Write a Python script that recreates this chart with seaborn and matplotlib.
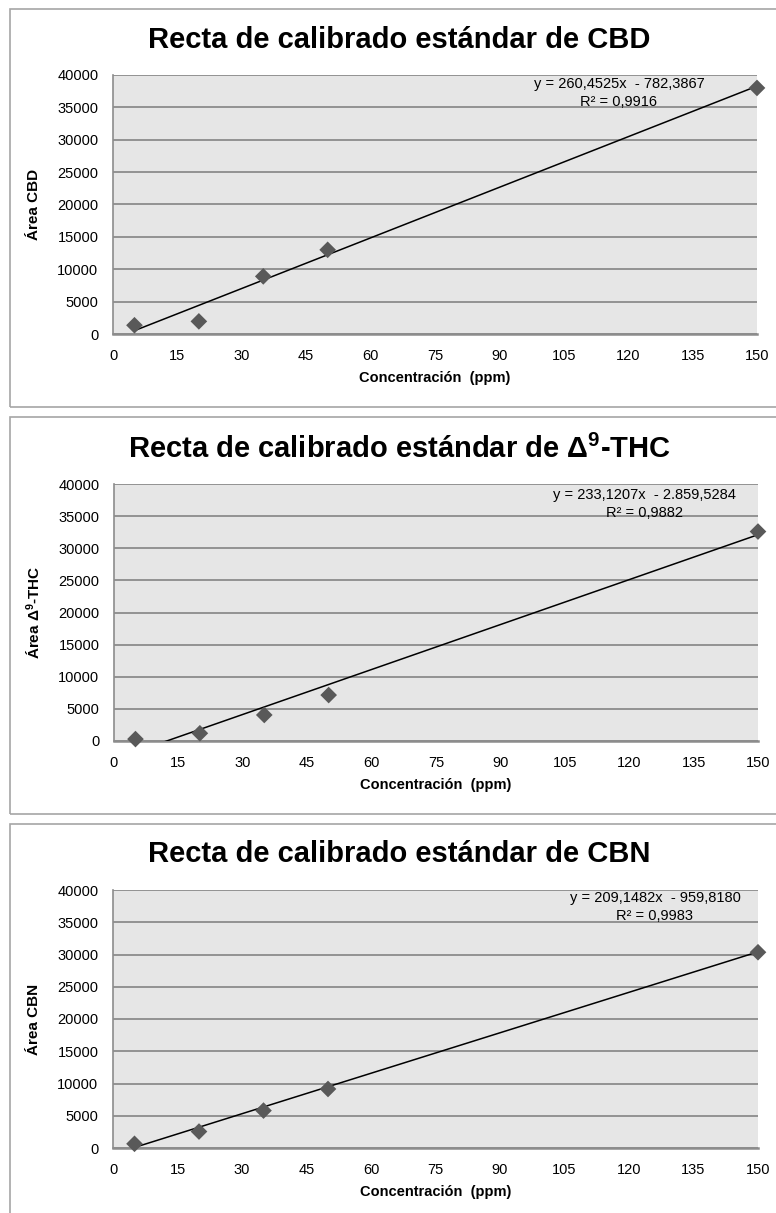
import matplotlib
matplotlib.use("Agg")
import matplotlib.pyplot as plt
import seaborn as sns
import pandas as pd
import numpy as np
from matplotlib.patches import Rectangle

sns.set_theme(style="white")
plt.rcParams['font.family'] = ['Liberation Sans', 'DejaVu Sans']
plt.rcParams['text.color'] = 'black'
plt.rcParams['mathtext.fontset'] = 'custom'
plt.rcParams['mathtext.rm'] = 'Liberation Sans'
plt.rcParams['mathtext.bf'] = 'Liberation Sans:bold'

# Standard concentrations (ppm) and measured peak areas
conc = [5, 20, 35, 50, 150]
area_cbd = [1350, 1950, 8900, 13000, 38000]
area_thc = [300, 1200, 4050, 7150, 32600]
area_cbn = [650, 2550, 5800, 9150, 30350]

# Linear trendlines (slope, intercept, R²)
slopes = [260.4525, 233.1207, 209.1482]
intercepts = [-782.3867, -2859.5284, -959.8180]
r2_values = [0.9916, 0.9882, 0.9983]

titles = [
    "Recta de calibrado estándar de CBD",
    r"Recta de calibrado estándar de $\mathbf{\Delta^{9}}$-THC",
    "Recta de calibrado estándar de CBN",
]
ylabels = ["Área CBD", r"Área $\mathbf{\Delta^{9}}$-THC", "Área CBN"]
xlabel = "Concentración  (ppm)"
x_ticks = list(range(0, 151, 15))
y_ticks = list(range(0, 40001, 5000))

W, H = 776, 1213
fig = plt.figure(figsize=(W / 100, H / 100), dpi=100)
fig.patch.set_facecolor("white")


def fx(px):
    return px / W


def fy(py):
    return 1 - py / H


def es_num(v):
    s = f"{v:,.4f}"
    return s.replace(",", "X").replace(".", ",").replace("X", ".")


# panel layout in pixels: frame top/bottom, axes left/right/top/bottom,
# title y, xlabel y, equation centre x and line y's
panels = [
    dict(frame=(9, 407), ax=(113, 757, 75, 334), title_y=40, xlab_y=378, eq=(619, 84, 102)),
    dict(frame=(417, 814), ax=(114, 758, 484, 741), title_y=449, xlab_y=785, eq=(644, 495, 513)),
    dict(frame=(824, 1230), ax=(113, 758, 890, 1148), title_y=854, xlab_y=1192, eq=(655, 898, 916)),
]
areas = [area_cbd, area_thc, area_cbn]

grid_col = "#8c8c8c"
bg_col = "#e6e6e6"
mark_col = "#595959"

for i, p in enumerate(panels):
    ft, fb = p["frame"]
    fig.add_artist(Rectangle((fx(10), fy(fb)), fx(W + 20), (fb - ft) / H,
                             transform=fig.transFigure, facecolor="none",
                             edgecolor="#a6a6a6", linewidth=1.2))
    l, r, t, b = p["ax"]
    ax = fig.add_axes([fx(l), fy(b), fx(r - l), (b - t) / H])
    ax.set_facecolor(bg_col)

    df = pd.DataFrame({"conc": conc, "area": areas[i]})
    xs = np.array([conc[0], conc[-1]], dtype=float)
    fit = pd.DataFrame({"conc": xs, "area": slopes[i] * xs + intercepts[i]})
    sns.lineplot(data=fit, x="conc", y="area", ax=ax, color="black",
                 linewidth=1.1, zorder=3)
    sns.scatterplot(data=df, x="conc", y="area", ax=ax, marker="D", s=72,
                    color=mark_col, edgecolor="none", zorder=4, clip_on=False)

    ax.set_xlim(0, 150)
    ax.set_ylim(0, 40000)
    ax.set_xticks(x_ticks)
    ax.set_yticks(y_ticks)
    ax.set_xticklabels([str(v) for v in x_ticks])
    ax.set_yticklabels([str(v) for v in y_ticks])
    ax.yaxis.grid(True, color=grid_col, linewidth=1.3)
    ax.xaxis.grid(False)
    ax.set_axisbelow(True)
    ax.tick_params(axis="both", length=0, labelsize=10.5, colors="black")
    ax.tick_params(axis="x", pad=11)
    ax.tick_params(axis="y", pad=10.5)
    for side in ["top", "right"]:
        ax.spines[side].set_visible(False)
    ax.spines["left"].set_color(grid_col)
    ax.spines["left"].set_linewidth(1.2)
    ax.spines["bottom"].set_color(grid_col)
    ax.spines["bottom"].set_linewidth(1.8)
    ax.set_xlabel("")
    ax.set_ylabel("")

    fig.text(fx(399), fy(p["title_y"]), titles[i], ha="center", va="center",
             fontsize=21, fontweight="bold", color="black")
    fig.text(fx((l + r) / 2), fy(p["xlab_y"]), xlabel, ha="center", va="center",
             fontsize=10.5, fontweight="bold", color="black")
    fig.text(fx(34), fy((t + b) / 2), ylabels[i], ha="center", va="center",
             rotation=90, fontsize=11, fontweight="bold", color="black")

    ex, ey1, ey2 = p["eq"]
    eq = f"y = {es_num(slopes[i])}x  - {es_num(abs(intercepts[i]))}"
    r2 = f"R² = {es_num(r2_values[i])}"
    fig.text(fx(ex), fy(ey1), eq, ha="center", va="center", fontsize=10.5, color="black")
    fig.text(fx(ex), fy(ey2), r2, ha="center", va="center", fontsize=10.5, color="black")

fig.savefig("out.png", dpi=100, facecolor="white")
